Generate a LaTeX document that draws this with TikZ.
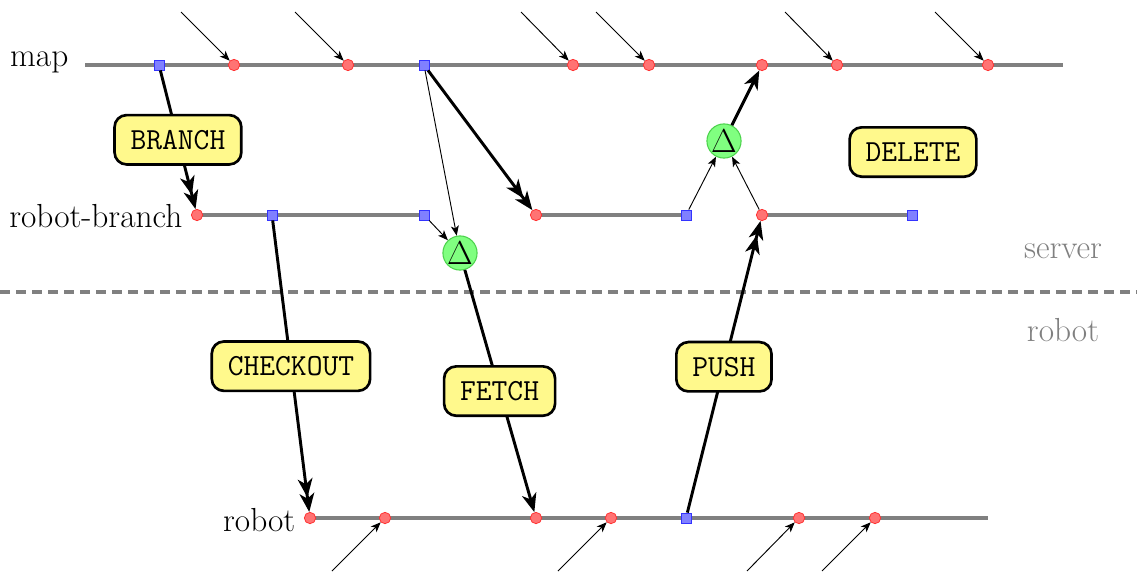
\documentclass[tikz,border=0pt]{standalone}
\usetikzlibrary{arrows.meta}
\pgfdeclarelayer{bg}
\pgfsetlayers{bg,main}
\tikzset{
  big/.style={font=\fontsize{25}{29}\selectfont},
  track/.style={draw=black!50, line width=3pt},
  rdot/.style={circle, draw=red!80, fill=red!55, line width=0.6pt, minimum size=8.5pt, inner sep=0pt},
  bsq/.style={rectangle, draw=blue!80, fill=blue!50, line width=0.6pt, minimum size=7.5pt, inner sep=0pt},
  delta/.style={circle, draw=green!75!black!70, fill=green!50, line width=0.8pt, minimum size=25.5pt, inner sep=0pt, font=\fontsize{24}{28}\selectfont},
  opbox/.style={draw=black, fill=yellow!45, line width=2pt, rounded corners=9pt, inner xsep=12pt, minimum height=37pt, font=\fontsize{23}{27}\selectfont\ttfamily},
  thin/.style={-{Stealth[length=7.5pt,width=6pt,inset=2pt]}, line width=0.7pt},
  thickone/.style={-{Stealth[length=14pt,width=11pt,inset=4pt]}, line width=2.2pt},
  thicktwo/.style={-{Stealth[length=14pt,width=11pt,inset=4pt,sep=-3pt] Stealth[length=14pt,width=11pt,inset=4pt]}, line width=2.2pt},
}
\begin{document}
\begin{tikzpicture}[x=0.75pt,y=-0.75pt]
\useasboundingbox (0,0) rectangle (1137,571);

% lane labels
\node[big, anchor=east] (lmap) at (73,62) {map};
\node[big, anchor=east] (lrb) at (187,216) {robot-branch};
\node[big, anchor=east] (lrob) at (300,520) {robot};
\node[big, text=black!50] (lserver) at (1063,251) {server};
\node[big, text=black!50] (lrobot) at (1063,330) {robot};

% separator
\coordinate (sepL) at (0,292);
\coordinate (sepR) at (1137,292);
\draw[black!50, line width=3pt, dash pattern=on 7.5pt off 4.5pt] (sepL) -- (sepR);

% map lane
\coordinate (mapL) at (85,65);
\coordinate (mapR) at (1063,65);
\node[bsq] (m1) at (159,65) {};
\node[rdot] (m2) at (234,65) {};
\node[rdot] (m3) at (348,65) {};
\node[bsq] (m4) at (424,65) {};
\node[rdot] (m5) at (573,65) {};
\node[rdot] (m6) at (649,65) {};
\node[rdot] (m7) at (762,65) {};
\node[rdot] (m8) at (837,65) {};
\node[rdot] (m9) at (988,65) {};

% robot-branch lane
\node[rdot] (b1) at (197,215) {};
\node[bsq] (b2) at (272,215) {};
\node[bsq] (b3) at (424,215) {};
\node[rdot] (b4) at (536,215) {};
\node[bsq] (b5) at (686,215) {};
\node[rdot] (b6) at (762,215) {};
\node[bsq] (b7) at (912,215) {};

% robot lane
\coordinate (robR) at (988,518);
\node[rdot] (r1) at (310,518) {};
\node[rdot] (r2) at (385,518) {};
\node[rdot] (r3) at (536,518) {};
\node[rdot] (r4) at (611,518) {};
\node[bsq] (r5) at (686,518) {};
\node[rdot] (r6) at (799,518) {};
\node[rdot] (r7) at (875,518) {};

% merge nodes
\node[delta] (d1) at (460,253) {$\Delta$};
\node[delta] (d2) at (724,141) {$\Delta$};

\begin{pgfonlayer}{bg}
\draw[track] (mapL) -- (mapR);
\draw[track] (b1.center) -- (b3.center);
\draw[track] (b4.center) -- (b5.center);
\draw[track] (b6.center) -- (b7.center);
\draw[track] (r1.center) -- (robR);
\end{pgfonlayer}

% incoming commits
\coordinate (i2) at (181,12);
\coordinate (i3) at (295,12);
\coordinate (i5) at (521,12);
\coordinate (i6) at (596,12);
\coordinate (i8) at (785,12);
\coordinate (i9) at (935,12);
\draw[thin] (i2) -- (m2);
\draw[thin] (i3) -- (m3);
\draw[thin] (i5) -- (m5);
\draw[thin] (i6) -- (m6);
\draw[thin] (i8) -- (m8);
\draw[thin] (i9) -- (m9);
\coordinate (j2) at (332,571);
\coordinate (j4) at (558,571);
\coordinate (j6) at (747,571);
\coordinate (j7) at (822,571);
\draw[thin] (j2) -- (r2);
\draw[thin] (j4) -- (r4);
\draw[thin] (j6) -- (r6);
\draw[thin] (j7) -- (r7);

% operations
\draw[thicktwo] (m1) -- node[opbox] (branch) {BRANCH} (b1);
\draw[thicktwo] (m4) -- (b4);
\draw[thin] (m4) -- (d1);
\draw[thin] (b3) -- (d1);
\draw[thickone] (d1) -- node[opbox] (fetch) {FETCH} (r3);
\draw[thicktwo] (b2) -- node[opbox] (checkout) {CHECKOUT} (r1);
\draw[thicktwo] (r5) -- node[opbox] (push) {PUSH} (b6);
\draw[thin] (b5) -- (d2);
\draw[thin] (b6) -- (d2);
\draw[thickone] (d2) -- (m7);
\node[opbox] (delete) at (913,152) {DELETE};
\end{tikzpicture}
\end{document}
